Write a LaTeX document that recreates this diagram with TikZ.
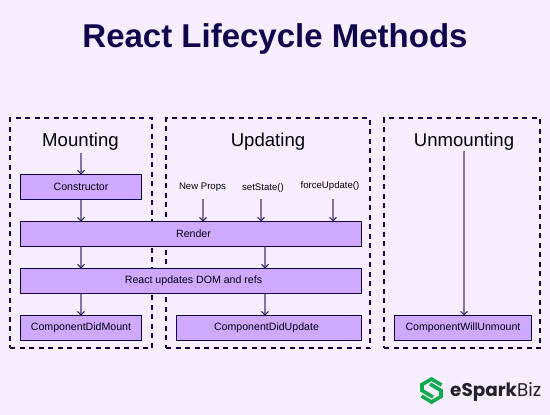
\documentclass[tikz,border=0pt]{standalone}
\usepackage{fontspec}
\setmainfont{Liberation Sans}
\newfontfamily\logofont{Poppins}
\usetikzlibrary{arrows.meta}
\definecolor{bgc}{HTML}{F6EEFF}
\definecolor{boxc}{HTML}{CFA8FF}
\definecolor{navy}{HTML}{10054D}
\definecolor{arrowc}{HTML}{7F75A6}
\definecolor{logog}{HTML}{0FA94F}
\definecolor{logok}{HTML}{222228}
\tikzset{
  stage/.style={draw=navy,line width=1.5pt,dash pattern=on 5pt off 4.5pt,fill=none,outer sep=0pt,inner sep=0pt},
  stepbox/.style={draw=navy,line width=1pt,fill=boxc,inner sep=0pt,outer sep=0pt,text=black!85!navy,font=\fontsize{10.6}{12}\selectfont,align=center},
  head/.style={font=\fontsize{18.6}{22}\selectfont,text=black!90!navy,inner sep=0pt},
  small/.style={font=\fontsize{9.6}{10}\selectfont,text=black!90!navy,inner sep=0pt},
  flow/.style={draw=arrowc,line width=1.4pt,-{Straight Barb[length=3.5pt,width=7pt,line width=.9pt,color=navy!75!arrowc]}},
  logostroke/.style={draw=logog,line width=3.6pt,line join=miter,line cap=butt},
}
\newcommand{\stepat}[6]{\node[stepbox,minimum width=#4pt-#3pt,minimum height=#6pt-#5pt,anchor=north west] (#1) at (#3,#5) {\raisebox{-0.9pt}{#2}};}
\begin{document}
\begin{tikzpicture}[x=1pt,y=-1pt]
\useasboundingbox[fill=bgc] (0,0) rectangle (550,415);
\node[inner sep=0pt,font=\bfseries\fontsize{33}{38}\selectfont,text=navy] (title) at (275,39) {React Lifecycle Methods};
\node[stage,minimum width=142pt,minimum height=230pt,anchor=north west] (mount) at (10,118) {};
\node[stage,minimum width=204pt,minimum height=230pt,anchor=north west] (update) at (166,118) {};
\node[stage,minimum width=156pt,minimum height=230pt,anchor=north west] (unmount) at (384,118) {};
\node[head] (hm) at (80.5,141.5) {Mounting};
\node[head] (hu) at (268,141.5) {Updating};
\node[head] (hun) at (464,141.5) {Unmounting};
\stepat{ctor}{Constructor}{20.5}{141.5}{174.5}{199.5}
\stepat{render}{\hspace*{5pt}Render}{20.5}{361.5}{221.5}{246.5}
\stepat{dom}{\hspace*{5pt}React updates DOM and refs}{20.5}{361.5}{268.5}{293.5}
\stepat{cdm}{ComponentDidMount}{20.5}{141.5}{315.5}{340.5}
\stepat{cdu}{\hspace*{-5pt}ComponentDidUpdate}{176.5}{361.5}{315.5}{340.5}
\stepat{cwu}{ComponentWillUnmount}{394.5}{531.5}{315.5}{340.5}
\node[small] (np) at (202.5,187.5) {New Props};
\node[small] (ss) at (263,188) {setState()};
\node[small] (fu) at (330,186.5) {forceUpdate()};
\coordinate (a0) at (81,153);
\coordinate (a1) at (203,199);
\coordinate (a2) at (261,199);
\coordinate (a3) at (333,199);
\coordinate (a4) at (464,151);
\draw[flow] (a0) -- (ctor.north -| a0);
\draw[flow] (ctor.south -| a0) -- (render.north -| a0);
\draw[flow] (render.south -| a0) -- (dom.north -| a0);
\draw[flow] (dom.south -| a0) -- (cdm.north -| a0);
\draw[flow] (a1) -- (render.north -| a1);
\draw[flow] (a2) -- (render.north -| a2);
\draw[flow] (a3) -- (render.north -| a3);
\coordinate (r) at (265,0);
\draw[flow] (render.south -| r) -- (dom.north -| r);
\draw[flow] (dom.south -| r) -- (cdu.north -| r);
\draw[flow] (a4) -- (cwu.north -| a4);
% logo
\draw[logostroke] (441.5,385) -- (431.5,379) -- (422,384.5) -- (422,390.5) -- (433,397);
\draw[logostroke] (421.5,396) -- (431.5,402) -- (441,396.5) -- (441,390.5) -- (430,384);
\node[inner sep=0pt,anchor=base west,font=\fontsize{18.4}{22}\selectfont,text=logok] (logo) at (450,396.5) {\logofont\textbf{eSpark}Biz};
\end{tikzpicture}
\end{document}
